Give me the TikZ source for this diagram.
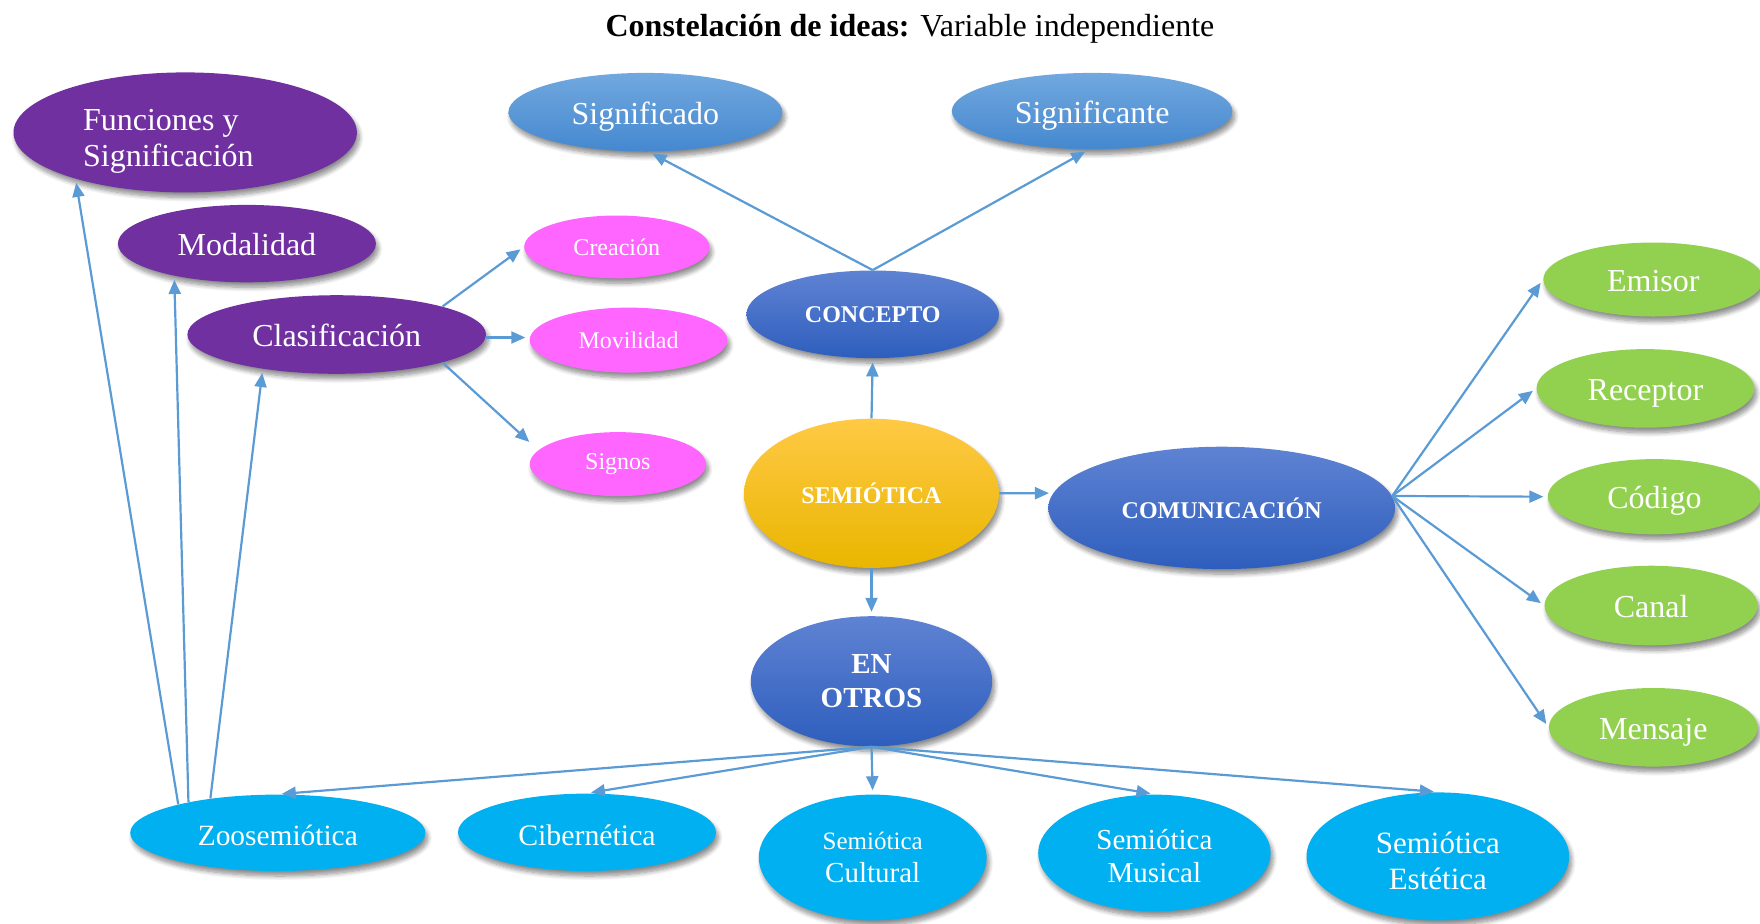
\documentclass[tikz,border=0pt]{standalone}
\usepackage{fontspec}
\setmainfont{Liberation Serif}
\usetikzlibrary{arrows.meta,shapes.geometric,shadows.blur}
\definecolor{cPurple}{HTML}{7030A0}
\definecolor{cMag}{HTML}{FF66FF}
\definecolor{cLbTop}{HTML}{71A8DF}
\definecolor{cLbBot}{HTML}{4588CF}
\definecolor{cDbTop}{HTML}{5F83D3}
\definecolor{cDbBot}{HTML}{2E5EBD}
\definecolor{cGoldTop}{HTML}{FFC945}
\definecolor{cGoldBot}{HTML}{E9B600}
\definecolor{cGreen}{HTML}{92D050}
\definecolor{cCyan}{HTML}{00B0F0}
\definecolor{cArrow}{HTML}{5B9BD5}
\newcommand\myfs[2]{\fontsize{#1}{#2}\selectfont}
\begin{document}
\begin{tikzpicture}[x=0.5pt,y=-0.5pt,
  sz/.style 2 args={minimum width=#1pt, minimum height=#2pt},
  bub/.style={ellipse, inner sep=0pt, text=white, align=center,
    blur shadow={shadow xshift=1.2pt, shadow yshift=-2.5pt, shadow blur steps=8, shadow opacity=45, shadow blur radius=2.2pt}},
  tbig/.style={text height=16pt, text depth=4pt},
  tmid/.style={text height=16pt, text depth=3pt},
  purp/.style={bub, fill=cPurple, font=\myfs{16}{18}, tbig},
  magb/.style={bub, fill=cMag, font=\myfs{12}{14}},
  lblue/.style={bub, top color=cLbTop, bottom color=cLbBot, font=\myfs{16}{18}, tbig},
  dblue/.style={bub, top color=cDbTop, bottom color=cDbBot, font=\bfseries\myfs{12}{14}},
  gold/.style={bub, top color=cGoldTop, bottom color=cGoldBot, font=\bfseries\myfs{12}{14}},
  green/.style={bub, fill=cGreen, font=\myfs{16}{18}, tbig},
  cyan/.style={bub, fill=cCyan},
  conn/.style={draw=cArrow, line width=1.1pt, -{Triangle[length=7pt,width=6pt]}, shorten >=2pt},
]
\useasboundingbox (0,0) rectangle (1760,923);

\node[font=\myfs{16}{18}] (title) at (910,28.4) {\textbf{Constelación de ideas:} Variable independiente};

% purple
\node[purp, sz={171.7}{60}] (fun) at (185.2,132.4) {};
\node[text=white, align=left, font=\myfs{16}{18}, inner sep=0pt] (funT) at (168.4,141.4) {Funciones y\\Significación};
\node[purp, sz={129}{38.7}] (mod) at (246.9,243.6) {Modalidad};
\node[purp, sz={149.3}{39.3}] (cla) at (336.7,334.5) {Clasificación};

% magenta
\node[magb, sz={92.6}{31.4}] (cre) at (616.8,246.9) {Creación};
\node[magb, sz={98.8}{32.5}] (mov) at (628.5,340.1) {Movilidad};
\node[magb, sz={88.1}{32}] (sig) at (617.9,464.1) {Signos};

% light blue
\node[lblue, sz={137}{39.3}] (sdo) at (645.4,112.2) {Significado};
\node[lblue, sz={140.3}{38.2}] (ste) at (1092.1,111.1) {Significante};

% center
\node[dblue, sz={126.3}{43.8}] (con) at (872.7,314.3) {CONCEPTO};
\node[gold, sz={127.4}{74.6}] (sem) at (871.5,493.3) {SEMIÓTICA};
\node[dblue, sz={173.4}{61.2}] (com) at (1221.7,507.9) {COMUNICACIÓN};
\node[dblue, sz={120.7}{65.1}, font=\bfseries\myfs{14.5}{16.8}] (otr) at (871.5,681.3) {EN\\OTROS};

% green
\node[green, sz={110}{37}] (emi) at (1653.3,279.5) {Emisor};
\node[green, sz={108.9}{39.3}] (rec) at (1645.4,388.4) {Receptor};
\node[green, sz={106.6}{37.6}] (cod) at (1654.4,496.7) {Código};
\node[green, sz={106.6}{39.8}] (can) at (1651.1,605.5) {Canal};
\node[green, sz={104.4}{39.3}] (men) at (1653.3,727.3) {Mensaje};

% cyan
\node[cyan, tmid, sz={147.6}{38.2}, font=\myfs{14.7}{17}] (zoo) at (277.8,832.8) {Zoosemiótica};
\node[cyan, tmid, sz={129}{38.7}, font=\myfs{14.9}{17}] (cib) at (587,832.3) {Cibernética};
\node[cyan, sz={113.9}{62.9}, font=\myfs{14.5}{16.3}] (scu) at (872.7,857.5) {{\myfs{12.5}{16.3}Semiótica}\\Cultural};
\node[cyan, sz={116.2}{58.4}, font=\myfs{14.5}{16.5}] (smu) at (1154.4,853) {\rule{0pt}{13pt}Semiótica\\Musical};
\node[cyan, sz={131.3}{64}, font=\myfs{15.5}{18}] (ses) at (1437.8,856.4) {\rule{0pt}{15pt}Semiótica\\Estética};

% connectors
\draw[conn] (con.north) -- (sdo.-85);
\draw[conn] (con.north) -- (ste.-95);
\draw[conn] (sem.north) -- (con.south);
\draw[conn] (sem.east) -- (com.175);
\draw[conn] (sem.south) -- (otr.north);

\draw[conn] (com.4) -- (emi.west);
\draw[conn] (com.4) -- (rec.west);
\draw[conn] (com.4) -- (cod.west);
\draw[conn] (com.4) -- (can.west);
\draw[conn] (com.4) -- (men.west);

\draw[conn] (otr.south) -- (zoo.north);
\draw[conn] (otr.south) -- (cib.north);
\draw[conn] (otr.south) -- (scu.north);
\draw[conn] (otr.south) -- (smu.north);
\draw[conn] (otr.south) -- (ses.north);

\draw[conn] (cla.north east) -- (cre.west);
\draw[conn] ([yshift=-1.5pt]cla.east) -- ([yshift=-1.5pt]cla.east -| mov.west);
\draw[conn, shorten >=6pt] (cla.south east) -- (sig.170);

\draw[conn] (zoo.164) -- (fun.203);
\draw[conn] (zoo.161) -- (mod.204);
\draw[conn] (zoo.153) -- (cla.205);
\end{tikzpicture}
\end{document}
